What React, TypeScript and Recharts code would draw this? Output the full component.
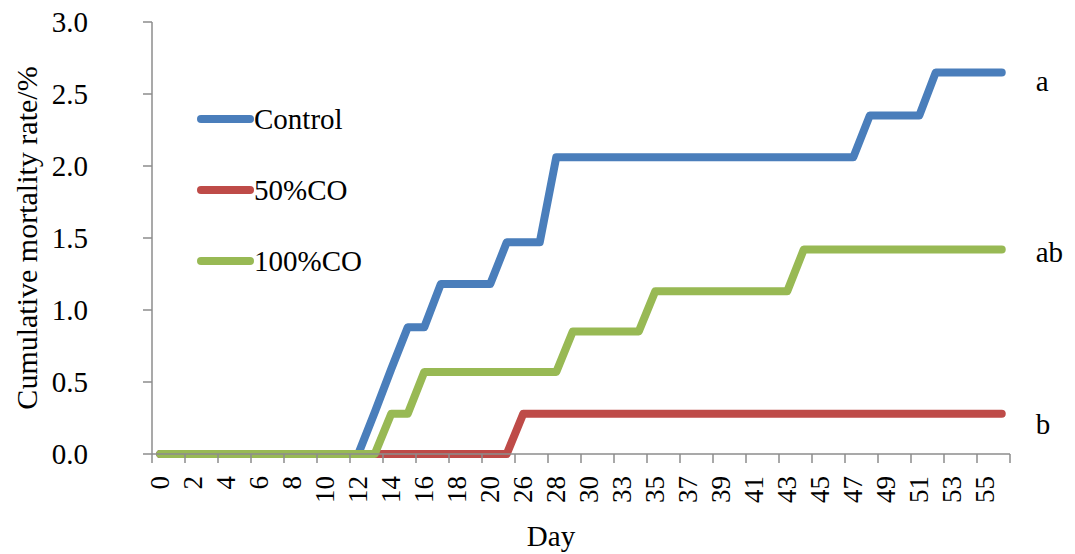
import React from 'react';
import { LineChart, Line, XAxis, YAxis, Legend } from 'recharts';

const FONT = "'Liberation Serif', 'Times New Roman', Times, serif";

// Observation days (category axis, unevenly spaced)
const days = [
  0, 1, 2, 3, 4, 5, 6, 7, 8, 9, 10, 11, 12, 13, 14, 15, 16, 17, 18, 19, 20,
  22,
  26, 27, 28, 29, 30,
  31,
  33, 34, 35, 36, 37, 38, 39, 40, 41, 42, 43, 44, 45, 46, 47, 48, 49, 50, 51, 52, 53, 54, 55, 56,
];

const control = [
  0, 0, 0, 0, 0, 0, 0, 0, 0, 0, 0, 0, 0,
  0.29, 0.59, 0.88, 0.88,
  1.18, 1.18, 1.18, 1.18,
  1.47, 1.47, 1.47,
  2.06, 2.06, 2.06, 2.06, 2.06, 2.06, 2.06, 2.06, 2.06, 2.06, 2.06, 2.06, 2.06, 2.06, 2.06, 2.06, 2.06, 2.06, 2.06,
  2.35, 2.35, 2.35, 2.35,
  2.65, 2.65, 2.65, 2.65, 2.65,
];

const co50 = [
  0, 0, 0, 0, 0, 0, 0, 0, 0, 0, 0, 0, 0, 0, 0, 0, 0, 0, 0, 0, 0, 0,
  0.28, 0.28, 0.28, 0.28, 0.28, 0.28, 0.28, 0.28, 0.28, 0.28, 0.28, 0.28, 0.28, 0.28, 0.28,
  0.28, 0.28, 0.28, 0.28, 0.28, 0.28, 0.28, 0.28, 0.28, 0.28, 0.28, 0.28, 0.28, 0.28, 0.28,
];

const co100 = [
  0, 0, 0, 0, 0, 0, 0, 0, 0, 0, 0, 0, 0, 0,
  0.28, 0.28,
  0.57, 0.57, 0.57, 0.57, 0.57, 0.57, 0.57, 0.57, 0.57,
  0.85, 0.85, 0.85, 0.85, 0.85,
  1.13, 1.13, 1.13, 1.13, 1.13, 1.13, 1.13, 1.13, 1.13,
  1.42, 1.42, 1.42, 1.42, 1.42, 1.42, 1.42, 1.42, 1.42, 1.42, 1.42, 1.42, 1.42,
];

const yTicks = [0, 0.5, 1.0, 1.5, 2.0, 2.5, 3.0];
const seriesNames = ['Control', '50%CO', '100%CO'];
const sigLetters = ['a', 'b', 'ab'];
const colors = ['#4A7EBB', '#BE4B48', '#98B954'];

const data = days.map((d, i) => ({
  idx: i,
  day: d,
  control: control[i],
  co50: co50[i],
  co100: co100[i],
}));

// ticks on category boundaries every 2 categories
const boundaryTicks = Array.from({ length: Math.floor(days.length / 2) + 1 }, (_, k) => -0.5 + 2 * k);

const W = 1075;
const H = 554;
const MARGIN = { top: 22, right: 65, bottom: 0, left: 0 };
const Y_W = 152;
const PLOT_W = W - Y_W - MARGIN.right;
const HALF_BAND = PLOT_W / days.length / 2;

const XTick = (props: any) => {
  const { x, y, payload } = props;
  const idx = Math.round(payload.value + 0.5);
  if (idx < 0 || idx >= days.length) return <g />;
  const cx = x + HALF_BAND;
  return (
    <text
      transform={`translate(${cx},${y}) rotate(-90)`}
      textAnchor="end"
      dominantBaseline="central"
      fontSize={27}
      fontFamily={FONT}
      fill="#000"
    >
      {days[idx]}
    </text>
  );
};

const YTitle = (props: any) => {
  const vb = props.viewBox || {};
  const cy = (vb.y ?? 22) + (vb.height ?? 432) / 2;
  return (
    <text
      transform={`translate(26,${cy}) rotate(-90)`}
      textAnchor="middle"
      dominantBaseline="central"
      fontSize={30}
      fontFamily={FONT}
      fill="#000"
    >
      Cumulative mortality rate/%
    </text>
  );
};

const XTitle = (props: any) => {
  const vb = props.viewBox || {};
  const cx = (vb.x ?? 152) + (vb.width ?? 858) / 2 - 30;
  const by = (vb.y ?? 454) + 92;
  return (
    <text x={cx} y={by} textAnchor="middle" fontSize={29} fontFamily={FONT} fill="#000">
      Day
    </text>
  );
};

const LegendContent = (props: any) => {
  const payload = [...(props.payload || [])].sort(
    (a: any, b: any) => seriesNames.indexOf(a.value) - seriesNames.indexOf(b.value)
  );
  return (
    <div style={{ display: 'flex', flexDirection: 'column', fontFamily: FONT }}>
      {payload.map((p: any) => (
        <div key={p.value} style={{ display: 'flex', alignItems: 'center', height: 71, fontFamily: FONT }}>
          <svg width={57} height={10} style={{ display: 'block' }}>
            <line x1={4} y1={5} x2={53} y2={5} stroke={p.color} strokeWidth={8} strokeLinecap="round" />
          </svg>
          <span style={{ fontFamily: FONT, fontSize: 29, color: '#000', lineHeight: 1 }}>{p.value}</span>
        </div>
      ))}
    </div>
  );
};

const makeEndLabel = (letter: string, dy: number) => (props: any) => {
  const { x, y, index } = props;
  if (index !== days.length - 1) return null;
  return (
    <text x={x + 34} y={y + dy} textAnchor="start" fontSize={29} fontFamily={FONT} fill="#000">
      {letter}
    </text>
  );
};

const keys = ['control', 'co50', 'co100'];
const labelDy = [19, 20, 12];

export default function App() {
  return (
    <div style={{ position: 'absolute', left: 0, top: 0, background: '#fff', fontFamily: FONT }}>
      <LineChart width={W} height={H} data={data} margin={MARGIN}>
        <XAxis
          type="number"
          dataKey="idx"
          domain={[-0.5, days.length - 0.5]}
          ticks={boundaryTicks}
          interval={0}
          tickSize={9}
          tickMargin={13}
          height={100}
          stroke="#8c8c8c"
          strokeWidth={1.5}
          tick={(p: any) => <XTick {...p} />}
          label={{ content: (p: any) => <XTitle {...p} /> }}
        />
        <YAxis
          type="number"
          domain={[0, 3]}
          ticks={yTicks}
          interval={0}
          width={Y_W}
          tickSize={9}
          tickMargin={55}
          stroke="#8c8c8c"
          strokeWidth={1.5}
          tickFormatter={(v: number) => v.toFixed(1)}
          tick={{ fill: '#000', fontSize: 29, fontFamily: FONT }}
          label={{ content: (p: any) => <YTitle {...p} /> }}
        />
        <Legend
          layout="vertical"
          align="center"
          verticalAlign="middle"
          content={(p: any) => <LegendContent {...p} />}
          wrapperStyle={{ left: 197, top: 83.5, width: 'auto', height: 'auto', fontFamily: FONT }}
        />
        {keys.map((k, i) => (
          <Line
            key={k}
            type="linear"
            dataKey={k}
            name={seriesNames[i]}
            stroke={colors[i]}
            strokeWidth={8}
            strokeLinejoin="round"
            strokeLinecap="round"
            dot={false}
            activeDot={false}
            isAnimationActive={false}
            label={makeEndLabel(sigLetters[i], labelDy[i])}
          />
        ))}
      </LineChart>
    </div>
  );
}
